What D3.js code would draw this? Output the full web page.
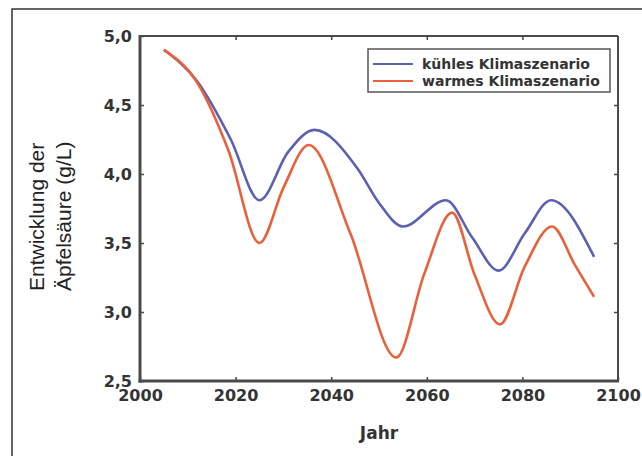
<!DOCTYPE html>
<html>
<head>
<meta charset="utf-8">
<script src="https://cdn.jsdelivr.net/npm/d3@7"></script>
<style>
  body { margin: 0; background: #fff; }
</style>
</head>
<body>
<script>
const width = 642;
const height = 456;
const margin = { top: 36, right: 24, bottom: 75, left: 140 };

// Daten: Extremwerte plus Zwischenpunkte
const jahreKuehl = [2005, 2012, 2019, 2025, 2031, 2036.5, 2045.5, 2050, 2055, 2064, 2069.5, 2075, 2080.5, 2086, 2095];
const werteKuehl = [4.9, 4.67, 4.25, 3.81, 4.16, 4.32, 4.04, 3.79, 3.62, 3.81, 3.54, 3.3, 3.57, 3.81, 3.4];

const jahreWarm = [2005, 2012, 2018.5, 2025, 2030, 2035.3, 2044, 2053.6, 2059.5, 2065.3, 2070, 2075.3, 2080.5, 2086.2, 2091, 2095];
const werteWarm = [4.9, 4.66, 4.17, 3.5, 3.9, 4.21, 3.57, 2.67, 3.28, 3.72, 3.27, 2.91, 3.33, 3.62, 3.34, 3.11];

const serien = [
  { name: "kühles Klimaszenario", jahre: jahreKuehl, werte: werteKuehl, farbe: "#5b60b2" },
  { name: "warmes Klimaszenario", jahre: jahreWarm, werte: werteWarm, farbe: "#e9603a" },
];

const xTicks = [2000, 2020, 2040, 2060, 2080, 2100];
const yTicks = [2.5, 3.0, 3.5, 4.0, 4.5, 5.0];

const svg = d3
  .select("body")
  .append("svg")
  .attr("width", width)
  .attr("height", height);

// äußerer Rahmen
svg
  .append("rect")
  .attr("x", 12)
  .attr("y", 9)
  .attr("width", 700)
  .attr("height", 500)
  .attr("fill", "none")
  .attr("stroke", "#333")
  .attr("stroke-width", 1.5);

const innerW = width - margin.left - margin.right;
const innerH = height - margin.top - margin.bottom;

const x = d3.scaleLinear().domain([2000, 2100]).range([0, innerW]);
const y = d3.scaleLinear().domain([2.5, 5]).range([innerH, 0]);

const g = svg
  .append("g")
  .attr("transform", `translate(${margin.left}, ${margin.top})`);

const fmtY = (d) => d3.format(".1f")(d).replace(".", ",");
const tickFont = "'DejaVu Sans', sans-serif";

const ejeX = g
  .append("g")
  .attr("transform", `translate(0, ${innerH})`)
  .call(d3.axisBottom(x).tickValues(xTicks).tickFormat(d3.format("d")).tickSizeInner(-4).tickSizeOuter(0).tickPadding(9));

const ejeXoben = g
  .append("g")
  .call(d3.axisTop(x).tickValues(xTicks.slice(1, -1)).tickFormat("").tickSizeInner(-4).tickSizeOuter(0));

const ejeY = g
  .append("g")
  .call(d3.axisLeft(y).tickValues(yTicks).tickFormat(fmtY).tickSizeInner(-4).tickSizeOuter(0).tickPadding(8));

const ejeYrechts = g
  .append("g")
  .attr("transform", `translate(${innerW}, 0)`)
  .call(d3.axisRight(y).tickValues(yTicks.slice(1, -1)).tickFormat("").tickSizeInner(-4).tickSizeOuter(0));

[ejeX, ejeXoben, ejeY, ejeYrechts].forEach((a) => {
  a.select(".domain").remove();
  a.selectAll(".tick line").attr("stroke", "#444").attr("stroke-width", 1.5);
  a.selectAll(".tick text")
    .attr("font-family", tickFont)
    .attr("font-weight", "bold")
    .attr("font-size", 16)
    .attr("fill", "#333");
});

// Kurven
const linie = (s) =>
  d3
    .line()
    .x((d) => x(d[0]))
    .y((d) => y(d[1]))
    .curve(d3.curveMonotoneX)(d3.zip(s.jahre, s.werte));

g.selectAll("path.serie")
  .data(serien)
  .join("path")
  .attr("class", "serie")
  .attr("fill", "none")
  .attr("stroke", (d) => d.farbe)
  .attr("stroke-width", 2.6)
  .attr("d", linie);

// Achsenrahmen
g.append("line").attr("x1", 0).attr("x2", innerW).attr("y1", 0).attr("y2", 0)
  .attr("stroke", "#4a4a4a").attr("stroke-width", 2);
g.append("line").attr("x1", innerW).attr("x2", innerW).attr("y1", 0).attr("y2", innerH)
  .attr("stroke", "#4a4a4a").attr("stroke-width", 2);
g.append("line").attr("x1", 0).attr("x2", 0).attr("y1", -1).attr("y2", innerH + 1.5)
  .attr("stroke", "#4a4a4a").attr("stroke-width", 3);
g.append("line").attr("x1", -1.5).attr("x2", innerW + 1).attr("y1", innerH).attr("y2", innerH)
  .attr("stroke", "#4a4a4a").attr("stroke-width", 3);

// Legende
const legende = svg.append("g").attr("transform", "translate(368, 49)");
legende
  .append("rect")
  .attr("width", 242)
  .attr("height", 43)
  .attr("fill", "#fff")
  .attr("stroke", "#555")
  .attr("stroke-width", 1.5);

const eintrag = legende
  .selectAll("g.eintrag")
  .data(serien)
  .join("g")
  .attr("class", "eintrag")
  .attr("transform", (d, i) => `translate(0, ${15 + i * 17})`);

eintrag
  .append("line")
  .attr("x1", 5)
  .attr("x2", 45)
  .attr("stroke", (d) => d.farbe)
  .attr("stroke-width", 2);

eintrag
  .append("text")
  .attr("x", 54)
  .attr("y", 5)
  .attr("font-family", tickFont)
  .attr("font-weight", "bold")
  .attr("font-size", 14)
  .attr("fill", "#333")
  .text((d) => d.name);

// Achsentitel
svg
  .append("text")
  .attr("x", margin.left + innerW / 2)
  .attr("y", 439)
  .attr("text-anchor", "middle")
  .attr("font-family", tickFont)
  .attr("font-weight", "bold")
  .attr("font-size", 17)
  .attr("fill", "#333")
  .text("Jahr");

const yTitel = svg
  .append("text")
  .attr("transform", "translate(44, 291) rotate(-90)")
  .attr("font-family", "'Liberation Sans', Arial, sans-serif")
  .attr("font-size", 21)
  .attr("fill", "#222");
yTitel.append("tspan").attr("x", 0).attr("y", 0).text("Entwicklung der");
yTitel.append("tspan").attr("x", 0).attr("y", 27).text("Äpfelsäure (g/L)");
</script>
</body>
</html>
